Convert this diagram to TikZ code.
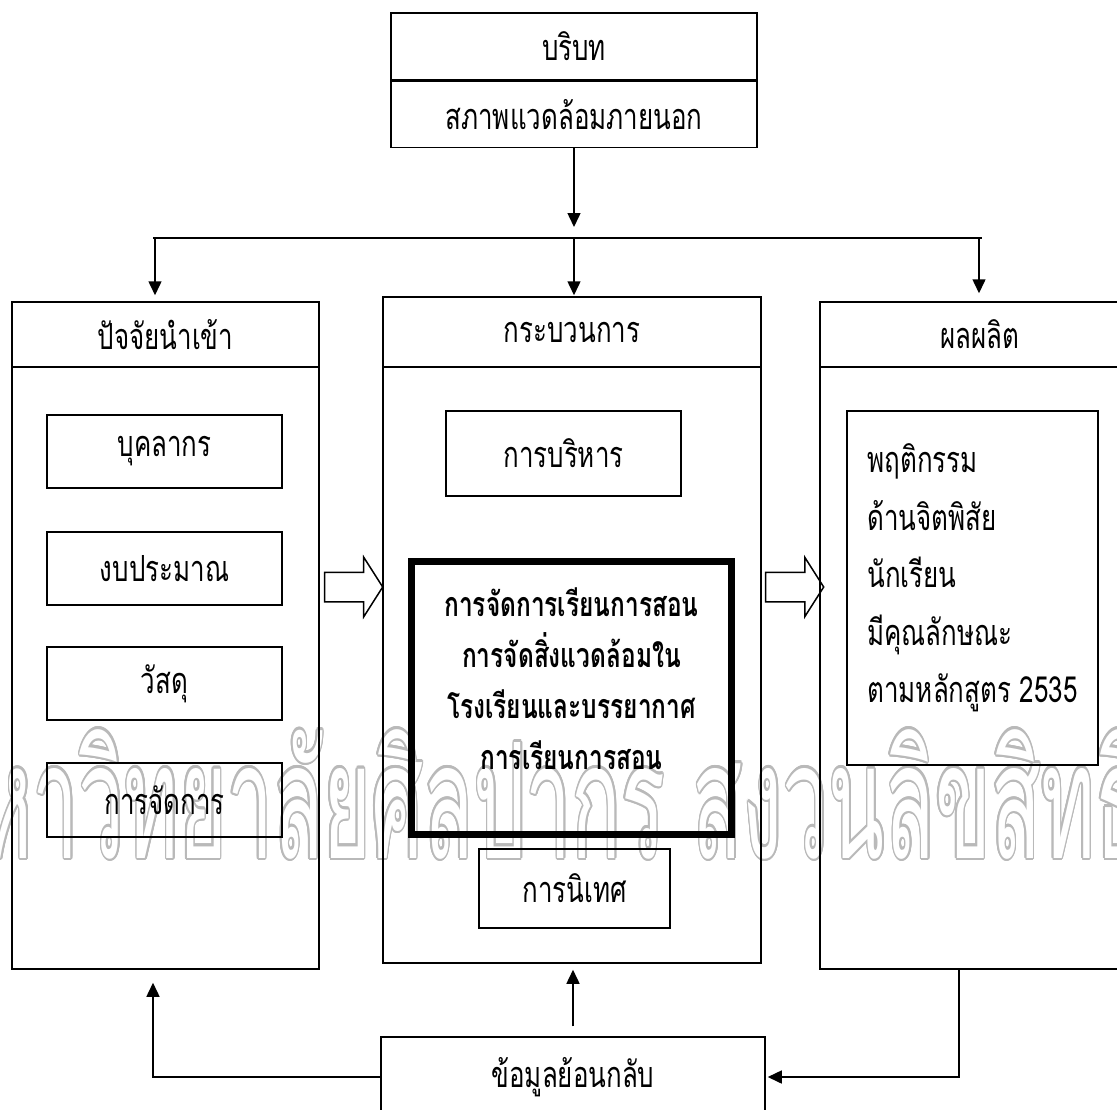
\documentclass[tikz,border=0pt]{standalone}
\usepackage{fontspec}
\usepackage{contour}
\usetikzlibrary{arrows.meta,shapes.arrows,positioning}
\newfontfamily\thaifont[Script=Thai,FakeStretch=0.72]{Loma}
\contourlength{0.5pt}

\begin{document}
\begin{tikzpicture}[x=1pt,y=-1pt,line width=1.5pt,font=\thaifont\fontsize{36}{44}\selectfont]
  \tikzstyle{box}=[draw,rectangle,inner sep=0pt]
  \tikzstyle{flow}=[-{Triangle[length=14pt,width=13pt]}]
  \tikzstyle{bigarrow}=[draw,single arrow,single arrow head extend=15pt,single arrow tip angle=115,inner xsep=0pt,inner ysep=14pt,minimum height=58pt]
  \useasboundingbox (0,0) rectangle (1117,1109);

  % watermark
  \node[anchor=base,inner sep=0pt] (mark) at (535,858) {\resizebox{1220pt}{170pt}{\contour{gray!55}{\textcolor{white}{มหาวิทยาลัยศิลปากร สงวนลิขสิทธิ์}}}};

  % context
  \node[box,minimum width=366pt,minimum height=67pt] (ctxhead) at (574,46.5) {บริบท};
  \node[box,minimum width=366pt,minimum height=66pt,below=0pt of ctxhead] (ctxbody) {สภาพแวดล้อมภายนอก};

  % the three columns
  \node[box,minimum width=307pt,minimum height=667pt] (input) at (165.5,635.5) {};
  \node[box,minimum width=307pt,minimum height=65pt,anchor=north] (inhead) at (input.north) {ปัจจัยนำเข้า};
  \node[box,minimum width=378pt,minimum height=666pt] (process) at (572,630) {};
  \node[box,minimum width=378pt,minimum height=70pt,anchor=north] (prochead) at (process.north) {กระบวนการ};
  \node[box,minimum width=320pt,minimum height=667pt] (output) at (980,635.5) {};
  \node[box,minimum width=320pt,minimum height=65pt,anchor=north] (outhead) at (output.north) {ผลผลิต};

  \node[box,minimum width=235pt,minimum height=73pt] (staff) at (164.5,451.5) {บุคลากร};
  \node[box,minimum width=235pt,minimum height=73pt] (budget) at (164.5,568.5) {งบประมาณ};
  \node[box,minimum width=235pt,minimum height=73pt] (material) at (164.5,683.5) {วัสดุ};
  \node[box,minimum width=235pt,minimum height=74pt] (manage) at (164.5,800) {การจัดการ};

  \node[box,minimum width=235pt,minimum height=85pt] (admin) at (563.5,453.5) {การบริหาร};
  \node[box,line width=7pt,minimum width=320pt,minimum height=273pt] (teach) at (571.5,698) {};
  \node[align=center,font=\thaifont\bfseries\fontsize{34}{51}\selectfont,yshift=19pt] (teachtext) at (teach.center)
    {การจัดการเรียนการสอน\\การจัดสิ่งแวดล้อมใน\\โรงเรียนและบรรยากาศ\\การเรียนการสอน};
  \node[box,minimum width=191pt,minimum height=79pt] (supervise) at (574.5,888.5) {การนิเทศ};

  \node[box,minimum width=251pt,minimum height=354pt] (traits) at (972.5,588) {};
  \node[align=left,font=\thaifont\fontsize{36}{57.5}\selectfont,yshift=10pt] (traitstext) at (traits.center)
    {พฤติกรรม\\ด้านจิตพิสัย\\นักเรียน\\มีคุณลักษณะ\\ตามหลักสูตร 2535};

  \node[box,minimum width=384pt,minimum height=80pt] (feedback) at (573,1077) {ข้อมูลย้อนกลับ};

  % hollow arrows
  \node[bigarrow] (inarrow) at (349,587) {};
  \node[bigarrow] (outarrow) at (790,587) {};

  % top distribution
  \coordinate (bus) at (574,238);
  \coordinate (dropin) at (155,238);
  \coordinate (dropout) at (979,238);
  \draw[flow,shorten >=11pt] (ctxbody.south) -- (bus);
  \draw (153,238) -- (982,238);
  \draw[flow,shorten >=6pt] (dropin) -- (dropin |- input.north);
  \draw[flow,shorten >=1pt] (bus) -- (bus |- process.north);
  \draw[flow,shorten >=8pt] (dropout) -- (dropout |- output.north);

  % feedback
  \draw[flow,shorten >=13pt] (feedback.west) -| ([xshift=-12.5pt]input.south);
  \draw[flow,shorten <=10pt,shorten >=6pt] (feedback.north) -- (feedback.north |- process.south);
  \draw[flow,shorten >=2pt] ([xshift=-21pt]output.south) |- (feedback.east);
\end{tikzpicture}
\end{document}
